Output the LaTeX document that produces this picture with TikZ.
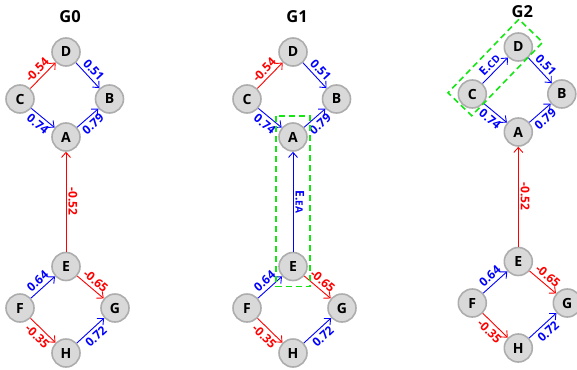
\documentclass[tikz,border=0pt]{standalone}
\usepackage{fontspec}
\setsansfont{Open Sans}
\usetikzlibrary{arrows.meta,calc}

\definecolor{hlgreen}{RGB}{20,230,20}

\begin{document}
\begin{tikzpicture}[x=1pt,y=-1pt,
	vert/.style={circle,draw=black!32,line width=1.6pt,fill=black!15,minimum size=28pt,inner sep=0pt,font=\sffamily\bfseries\fontsize{14}{16}\selectfont},
	posedge/.style={blue,line width=.9pt,-{Straight Barb[length=5pt,width=9pt]}},
	negedge/.style={posedge,red},
	wgt/.style={midway,sloped,inner sep=3.2pt,font=\sffamily\bfseries\fontsize{12}{13}\selectfont},
	vwgt/.style={midway,anchor=south,rotate=-90,inner sep=2pt,font=\sffamily\bfseries\fontsize{12}{13}\selectfont},
	title/.style={font=\sffamily\bfseries\fontsize{16.5}{18}\selectfont},
	hilite/.style={draw=hlgreen,line width=1.6pt,dash pattern=on 6pt off 4pt}]
	\useasboundingbox (0,0) rectangle (577,369);

	% G0
	\begin{scope}
		\node[title] (t0) at (70,17) {G0};
		\node[vert] (D0) at (66,52) {D};
		\node[vert] (C0) at (20,99) {C};
		\node[vert] (B0) at (109.5,99) {B};
		\node[vert] (A0) at (66,137) {A};
		\node[vert] (E0) at (66,266.5) {E};
		\node[vert] (F0) at (20,308) {F};
		\node[vert] (G0) at (115,308) {G};
		\node[vert] (H0) at (66,353) {H};

		\draw[negedge] (C0) -- node[wgt,above] {-0.54} (D0);
		\draw[posedge] (D0) -- node[wgt,above] {0.51} (B0);
		\draw[posedge] (C0) -- node[wgt,below] {0.74} (A0);
		\draw[posedge] (A0) -- node[wgt,below] {0.79} (B0);
		\draw[negedge] (E0) -- node[vwgt] {-0.52} (A0);
		\draw[posedge] (F0) -- node[wgt,above] {0.64} (E0);
		\draw[negedge] (E0) -- node[wgt,above] {-0.65} (G0);
		\draw[negedge] (F0) -- node[wgt,below] {-0.35} (H0);
		\draw[posedge] (H0) -- node[wgt,below] {0.72} (G0);
	\end{scope}

	% G1
	\begin{scope}[shift={(227,0)}]
		\node[title] (t1) at (70,17) {G1};
		\node[vert] (D1) at (66,52) {D};
		\node[vert] (C1) at (20,99) {C};
		\node[vert] (B1) at (109.5,99) {B};
		\node[vert] (A1) at (66,137) {A};
		\node[vert] (E1) at (66,266.5) {E};
		\node[vert] (F1) at (20,308) {F};
		\node[vert] (G1) at (115,308) {G};
		\node[vert] (H1) at (66,353) {H};

		\draw[negedge] (C1) -- node[wgt,above] {-0.54} (D1);
		\draw[posedge] (D1) -- node[wgt,above] {0.51} (B1);
		\draw[posedge] (C1) -- node[wgt,below] {0.74} (A1);
		\draw[posedge] (A1) -- node[wgt,below] {0.79} (B1);
		\draw[posedge] (E1) -- node[vwgt] {E.{\fontsize{10}{11}\selectfont EA}} (A1);
		\draw[posedge] (F1) -- node[wgt,above] {0.64} (E1);
		\draw[negedge] (E1) -- node[wgt,above] {-0.65} (G1);
		\draw[negedge] (F1) -- node[wgt,below] {-0.35} (H1);
		\draw[posedge] (H1) -- node[wgt,below] {0.72} (G1);

		\draw[hilite] ($(A1.west |- A1.north)+(-2.2,-6.2)$) rectangle ($(E1.east |- E1.south)+(2.2,5.2)$);
	\end{scope}

	% G2
	\begin{scope}[shift={(452.3,-5)}]
		\node[title] (t2) at (70,17) {G2};
		\node[vert] (D2) at (66,52) {D};
		\node[vert] (C2) at (20,99) {C};
		\node[vert] (B2) at (109.5,99) {B};
		\node[vert] (A2) at (66,137) {A};
		\node[vert] (E2) at (66,266.5) {E};
		\node[vert] (F2) at (20,308) {F};
		\node[vert] (G2) at (115,308) {G};
		\node[vert] (H2) at (66,353) {H};

		\draw[posedge] (C2) -- node[wgt,above] {E.{\fontsize{10}{11}\selectfont CD}} (D2);
		\draw[posedge] (D2) -- node[wgt,above] {0.51} (B2);
		\draw[posedge] (C2) -- node[wgt,below] {0.74} (A2);
		\draw[posedge] (A2) -- node[wgt,below] {0.79} (B2);
		\draw[negedge] (E2) -- node[vwgt] {-0.52} (A2);
		\draw[posedge] (F2) -- node[wgt,above] {0.64} (E2);
		\draw[negedge] (E2) -- node[wgt,above] {-0.65} (G2);
		\draw[negedge] (F2) -- node[wgt,below] {-0.35} (H2);
		\draw[posedge] (H2) -- node[wgt,below] {0.72} (G2);

		\node[hilite,rotate=46,minimum width=102pt,minimum height=33pt] (boxCD) at ($(C2)!.5!(D2)+(0,-3)$) {};
	\end{scope}
\end{tikzpicture}
\end{document}
